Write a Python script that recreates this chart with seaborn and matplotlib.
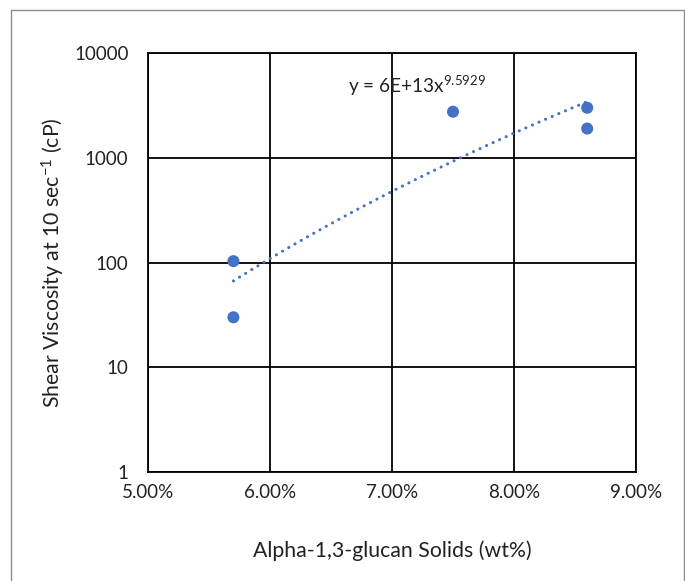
import numpy as np
import pandas as pd
import matplotlib
matplotlib.use("Agg")
import matplotlib.pyplot as plt
import seaborn as sns
from matplotlib.ticker import FuncFormatter, FixedLocator

solids_pct = [5.7, 5.7, 7.5, 8.6, 8.6]
viscosity_cp = [103, 30, 2750, 3000, 1900]
x_ticks = [5.0, 6.0, 7.0, 8.0, 9.0]
y_ticks = [1, 10, 100, 1000, 10000]
equation = r"y = 6E+13x$^{\mathregular{9.5929}}$"

sns.set_theme(style="white")
plt.rcParams['font.family'] = ['Lato', 'DejaVu Sans']
plt.rcParams['mathtext.default'] = 'regular'

df = pd.DataFrame({"x": solids_pct, "y": viscosity_cp})

fig = plt.figure(figsize=(6.85, 5.81), dpi=100)
ax = fig.add_axes([148/685, 1-472/581, (636-148)/685, (472-53)/581])

# power trendline fit (on fractional x)
xf = np.array(solids_pct) / 100.0
b, lna = np.polyfit(np.log(xf), np.log(viscosity_cp), 1)
xs = np.linspace(min(solids_pct), max(solids_pct), 100)
trend = pd.DataFrame({"x": xs, "y": np.exp(lna) * (xs / 100.0) ** b})

sns.lineplot(data=trend, x="x", y="y", ax=ax, color="#4472C4", lw=2.2,
             linestyle=(0, (0.05, 2.3)), dash_capstyle="round", zorder=3)
sns.scatterplot(data=df, x="x", y="y", ax=ax, color="#4472C4", s=75,
                edgecolor="none", zorder=4)

ax.set_yscale("log")
ax.set_xlim(5.0, 9.0)
ax.set_ylim(1, 10000)
ax.xaxis.set_major_locator(FixedLocator(x_ticks))
ax.yaxis.set_major_locator(FixedLocator(y_ticks))
ax.yaxis.set_minor_locator(FixedLocator([]))
ax.xaxis.set_major_formatter(FuncFormatter(lambda v, p: f"{v:.2f}%"))
ax.yaxis.set_major_formatter(FuncFormatter(lambda v, p: f"{int(round(v))}"))
ax.grid(True, color="black", lw=1.3)
for s in ax.spines.values():
    s.set_color("black")
    s.set_linewidth(1.3)
ax.tick_params(axis="both", length=0, labelsize=13.5, colors="#222222")
ax.tick_params(axis="x", pad=9)
ax.tick_params(axis="y", pad=14)
ax.set_xlabel("Alpha-1,3-glucan Solids (wt%)", fontsize=15.3, labelpad=28, color="#222222")
ax.set_ylabel("Shear Viscosity at 10 sec$^{\\mathregular{-1}}$ (cP)", fontsize=15.3,
              labelpad=5, color="#222222")

ax.text(6.64, 4850, equation, fontsize=13.7, color="#222222", va="center", ha="left")

# chart-area border
from matplotlib.lines import Line2D
x0, y0 = 10.5/685, 1 - 9.5/581
x1 = 683.5/685
fig.add_artist(Line2D([x0, x0], [0, y0], transform=fig.transFigure, color="#8c8c8c", lw=1))
fig.add_artist(Line2D([x0, x1], [y0, y0], transform=fig.transFigure, color="#8c8c8c", lw=1))
fig.add_artist(Line2D([x1, x1], [0, y0], transform=fig.transFigure, color="#8c8c8c", lw=1))

fig.savefig("out.png", dpi=100)
